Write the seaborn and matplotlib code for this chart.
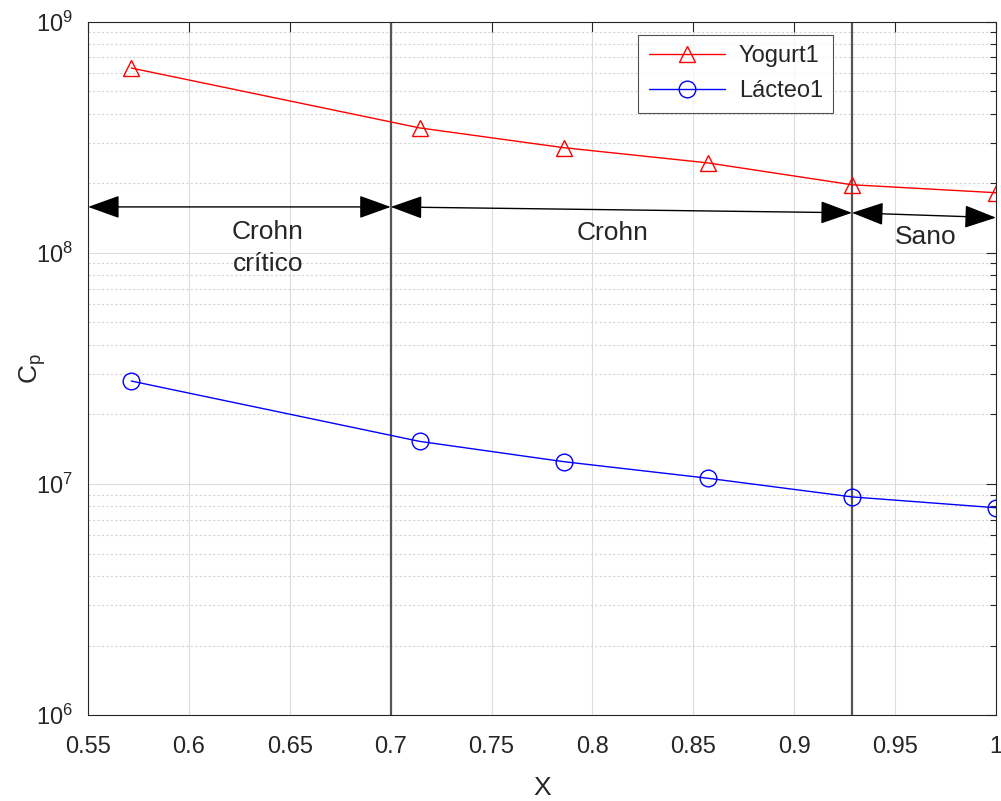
import numpy as np
import pandas as pd
import matplotlib
matplotlib.use("Agg")
import matplotlib.pyplot as plt
import seaborn as sns
from matplotlib.ticker import LogLocator, NullFormatter

# ── Data ───────────────────────────────────────────────────────────────────────
x_vals   = [0.5714, 0.7143, 0.7857, 0.8571, 0.9286, 1.0]
yogurt1  = [6.3e8, 3.47e8, 2.85e8, 2.45e8, 1.97e8, 1.82e8]
lacteo1  = [2.79e7, 1.53e7, 1.25e7, 1.06e7, 8.8e6, 7.9e6]
series_names = ["Yogurt1", "Lácteo1"]

# zone arrows: start / end of each double arrow
arrow_x0 = [0.55, 0.7, 0.9286]
arrow_x1 = [0.7, 0.9286, 1.0]
arrow_y0 = [1.58e8, 1.58e8, 1.49e8]
arrow_y1 = [1.58e8, 1.49e8, 1.42e8]
zone_lines  = [0.7, 0.9286]
zone_labels = ["Crohn\ncrítico", "Crohn", "Sano"]
label_x     = [0.639, 0.81, 0.965]
label_y     = [1.05e8, 1.22e8, 1.17e8]
x_ticks  = [0.55, 0.6, 0.65, 0.7, 0.75, 0.8, 0.85, 0.9, 0.95, 1.0]
x_labels = ["0.55", "0.6", "0.65", "0.7", "0.75", "0.8", "0.85", "0.9", "0.95", "1"]

df = pd.DataFrame({
    "X": x_vals * 2,
    "Cp": yogurt1 + lacteo1,
    "serie": [series_names[0]] * len(x_vals) + [series_names[1]] * len(x_vals),
})

# ── Style ──────────────────────────────────────────────────────────────────────
sns.set_style("white")
plt.rcParams["font.family"] = ["Liberation Sans", "DejaVu Sans"]
ink = "#262626"

fig = plt.figure(figsize=(10.01, 8.01), dpi=100)
ax = fig.add_axes([0.088, 0.107, 0.907, 0.866])

sns.lineplot(data=df[df.serie == "Yogurt1"], x="X", y="Cp", ax=ax,
             color="#ff0000", marker="^", markersize=12, mfc="none",
             mec="#ff0000", mew=1.0, linewidth=1.0, label="Yogurt1")
sns.lineplot(data=df[df.serie == "Lácteo1"], x="X", y="Cp", ax=ax,
             color="#0000ff", marker="o", markersize=12, mfc="none",
             mec="#0000ff", mew=1.0, linewidth=1.0, label="Lácteo1")

ax.set_yscale("log")
ax.set_xlim(0.55, 1.0)
ax.set_ylim(1e6, 1e9)
ax.set_xticks(x_ticks)
ax.set_xticklabels(x_labels)
ax.yaxis.set_major_locator(LogLocator(base=10, numticks=10))
ax.yaxis.set_minor_locator(LogLocator(base=10, subs=np.arange(2, 10), numticks=20))
ax.yaxis.set_minor_formatter(NullFormatter())

ax.grid(which="major", color="#dcdcdc", linewidth=0.8, linestyle="-")
ax.grid(which="minor", axis="y", color="#d4d4d4", linewidth=0.8, linestyle=(0, (2, 2)))
ax.tick_params(which="both", direction="in", top=True, right=True,
               labelsize=17, colors=ink, width=0.8)
ax.tick_params(which="major", length=7)
ax.tick_params(which="minor", length=4)
ax.tick_params(axis="x", pad=15)
ax.tick_params(axis="y", pad=11)
for sp in ax.spines.values():
    sp.set_color(ink)
    sp.set_linewidth(0.8)

ax.set_xlabel("X", fontsize=19, color=ink)
ax.set_ylabel("C$_\\mathregular{p}$", fontsize=19, color=ink)
ax.xaxis.set_label_coords(0.5, -0.087)
ax.yaxis.set_label_coords(-0.044, 0.5)

# vertical zone separators
for xv in zone_lines:
    ax.axvline(xv, color="#555555", linewidth=1.6, zorder=1)

# zone arrows and labels
for i in range(3):
    ax.annotate("", xy=(arrow_x1[i], arrow_y1[i]), xytext=(arrow_x0[i], arrow_y0[i]),
                arrowprops=dict(arrowstyle="<|-|>,head_length=1.0,head_width=0.36",
                                mutation_scale=20, color="black", linewidth=1.0,
                                shrinkA=0, shrinkB=0))
    ax.text(label_x[i], label_y[i], zone_labels[i], fontsize=19,
            ha="center", va="center", color=ink, linespacing=1.45)

leg = ax.legend(loc="upper right", bbox_to_anchor=(0.821, 0.981), fontsize=17,
                frameon=True, fancybox=False, edgecolor=ink, borderaxespad=0,
                handlelength=3.2, borderpad=0.45, labelspacing=0.55,
                handletextpad=0.6)
leg.get_frame().set_linewidth(0.8)

fig.savefig("out.png", dpi=100)
